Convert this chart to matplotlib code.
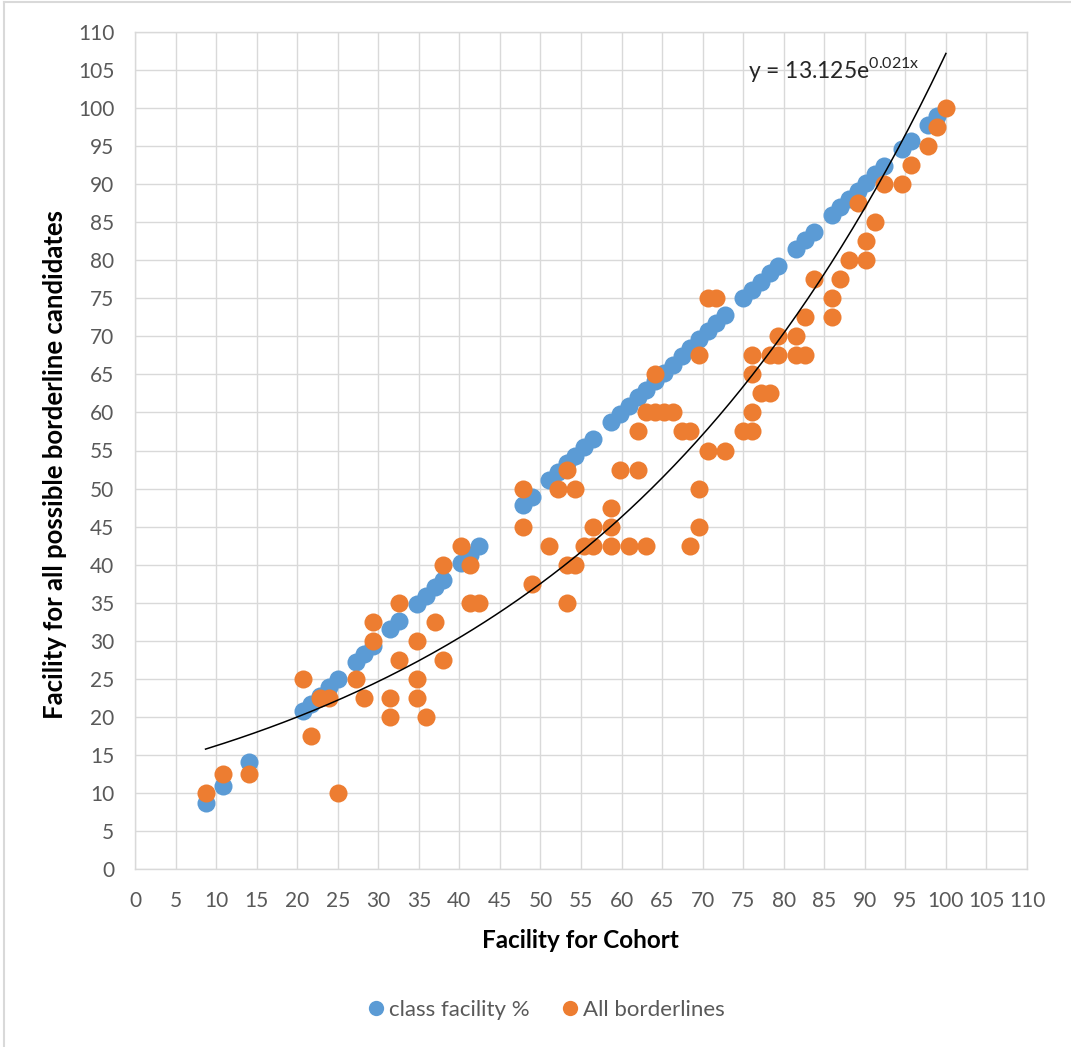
import matplotlib
matplotlib.use("Agg")
import matplotlib.pyplot as plt
from matplotlib.lines import Line2D
import numpy as np

plt.rcParams["font.family"] = ["Lato", "DejaVu Sans"]
plt.rcParams["mathtext.fontset"] = "custom"
plt.rcParams["mathtext.rm"] = "Lato"

# ── data ────────────────────────────────────────────────────────────────
class_x = [8.7, 10.9, 14.1, 20.7, 21.7, 22.8, 23.9, 25.0, 27.2, 28.3, 29.3,
           31.5, 32.6, 34.8, 35.9, 37.0, 38.0, 40.2, 41.3, 42.4, 47.8, 48.9,
           51.1, 52.2, 53.3, 54.3, 55.4, 56.5, 58.7, 59.8, 60.9, 62.0, 63.0,
           64.1, 65.2, 66.3, 67.4, 68.5, 69.6, 70.7, 71.7, 72.8, 75.0, 76.1,
           77.2, 78.3, 79.3, 81.5, 82.6, 83.7, 85.9, 87.0, 88.0, 89.1, 90.2,
           91.3, 92.4, 94.6, 95.7, 97.8, 98.9]
class_y = [8.7, 10.9, 14.1, 20.7, 21.7, 22.8, 23.9, 25.0, 27.2, 28.3, 29.3,
           31.5, 32.6, 34.8, 35.9, 37.0, 38.0, 40.2, 41.3, 42.4, 47.8, 48.9,
           51.1, 52.2, 53.3, 54.3, 55.4, 56.5, 58.7, 59.8, 60.9, 62.0, 63.0,
           64.1, 65.2, 66.3, 67.4, 68.5, 69.6, 70.7, 71.7, 72.8, 75.0, 76.1,
           77.2, 78.3, 79.3, 81.5, 82.6, 83.7, 85.9, 87.0, 88.0, 89.1, 90.2,
           91.3, 92.4, 94.6, 95.7, 97.8, 98.9]

border_x = [8.7, 10.9, 14.1, 20.7, 21.7, 22.8, 23.9, 25.0, 27.2, 28.3, 29.3,
            29.3, 31.5, 31.5, 32.6, 32.6, 34.8, 34.8, 34.8, 35.9, 37.0, 38.0,
            38.0, 40.2, 41.3, 41.3, 42.4, 47.8, 47.8, 48.9, 51.1, 52.2, 53.3,
            53.3, 53.3, 54.3, 54.3, 55.4, 56.5, 56.5, 58.7, 58.7, 58.7, 59.8,
            60.9, 62.0, 62.0, 63.0, 63.0, 64.1, 64.1, 65.2, 66.3, 67.4, 68.5,
            68.5, 69.6, 69.6, 69.6, 70.7, 70.7, 71.7, 72.8, 75.0, 76.1, 76.1,
            76.1, 76.1, 77.2, 78.3, 78.3, 79.3, 79.3, 81.5, 81.5, 82.6, 82.6,
            83.7, 85.9, 85.9, 87.0, 88.0, 89.1, 90.2, 90.2, 91.3, 92.4, 94.6,
            95.7, 97.8, 98.9, 100.0]
border_y = [10, 12.5, 12.5, 25, 17.5, 22.5, 22.5, 10, 25, 22.5, 32.5,
            30, 22.5, 20, 35, 27.5, 30, 25, 22.5, 20, 32.5, 40,
            27.5, 42.5, 40, 35, 35, 50, 45, 37.5, 42.5, 50, 52.5,
            40, 35, 50, 40, 42.5, 45, 42.5, 47.5, 45, 42.5, 52.5,
            42.5, 57.5, 52.5, 60, 42.5, 65, 60, 60, 60, 57.5, 57.5,
            42.5, 67.5, 50, 45, 75, 55, 75, 55, 57.5, 67.5, 65,
            60, 57.5, 62.5, 67.5, 62.5, 70, 67.5, 70, 67.5, 72.5, 67.5,
            77.5, 75, 72.5, 77.5, 80, 87.5, 82.5, 80, 85, 90, 90,
            92.5, 95, 97.5, 100]

# exponential trendline as printed on the chart
trend_a = 13.125
trend_b = 0.021

BLUE = "#5B9BD5"
ORANGE = "#ED7D31"
GRID = "#D9D9D9"
TXT = "#595959"

fig = plt.figure(figsize=(10.71, 10.47), dpi=100)
ax = fig.add_axes([135 / 1071, 178 / 1047, 892 / 1071, 837 / 1047])

ax.plot(class_x, class_y, "o", color=BLUE, ms=13, mec="none", zorder=3)
ax.plot(border_x, border_y, "o", color=ORANGE, ms=13, mec="none", zorder=4)

tx = np.linspace(min(border_x), max(border_x), 200)
ax.plot(tx, trend_a * np.exp(trend_b * tx), color="black", lw=1.1, zorder=5)

ax.set_xlim(0, 110)
ax.set_ylim(0, 110)
ax.set_xticks(range(0, 111, 5))
ax.set_yticks(range(0, 111, 5))
ax.grid(True, color=GRID, lw=1.0)
ax.set_axisbelow(True)
for sp in ax.spines.values():
    sp.set_color(GRID)
    sp.set_linewidth(1.0)
ax.tick_params(length=0, labelsize=15, labelcolor=TXT)
ax.tick_params(axis="x", pad=16)
ax.tick_params(axis="y", pad=15)

fig.text(580 / 1071, 1 - 940 / 1047, "Facility for Cohort", ha="center",
         va="center", fontsize=17.5, fontweight="bold")
fig.text(55 / 1071, 1 - 464 / 1047, "Facility for all possible borderline candidates",
         ha="center", va="center", rotation=90, fontsize=18.5, fontweight="bold")

fig.text(748 / 1071, 1 - 78 / 1047, r"y = 13.125e$^{\mathregular{0.021x}}$",
         ha="left", va="baseline", fontsize=16.5, color="#262626")

handles = [
    Line2D([], [], ls="none", marker="o", color=BLUE, ms=11, mec="none",
           label="class facility %"),
    Line2D([], [], ls="none", marker="o", color=ORANGE, ms=11, mec="none",
           label="All borderlines"),
]
leg = fig.legend(handles=handles, loc="center", bbox_to_anchor=(545 / 1071, 1 - 1010 / 1047),
                 ncol=2, frameon=False, fontsize=16, handletextpad=0.1,
                 columnspacing=1.3, handlelength=1.0)
for t in leg.get_texts():
    t.set_color(TXT)

# chart-area border (only top and left edges are visible in the source)
fig.add_artist(Line2D([4 / 1071, 1], [1 - 2 / 1047, 1 - 2 / 1047], color=GRID, lw=1.5,
                      transform=fig.transFigure))
fig.add_artist(Line2D([4 / 1071, 4 / 1071], [0, 1 - 2 / 1047], color=GRID, lw=1.5,
                      transform=fig.transFigure))

fig.savefig("out.png", dpi=100)
